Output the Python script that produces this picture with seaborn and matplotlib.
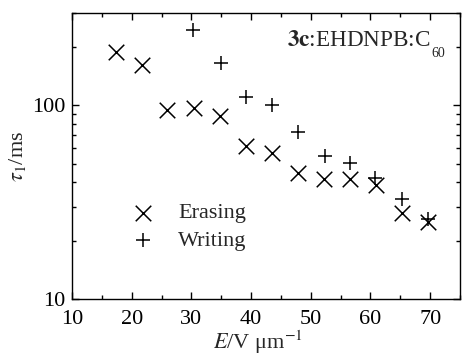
import numpy as np
import pandas as pd
import matplotlib
matplotlib.use("Agg")
import matplotlib.pyplot as plt
import seaborn as sns
from matplotlib.ticker import LogLocator, FixedLocator, MultipleLocator, NullFormatter, FuncFormatter

# Data
erase_E = [17.4, 21.7, 26.0, 30.4, 34.8, 39.1, 43.5, 47.8, 52.2, 56.5, 60.9, 65.2, 69.7]
erase_tau = [188, 161, 95, 97, 88.5, 62, 57, 44.5, 41.5, 41.5, 38.7, 27.7, 25.0]
write_E = [30.3, 34.9, 39.1, 43.5, 47.8, 52.3, 56.6, 60.8, 65.2, 69.7]
write_tau = [245, 165, 110, 101, 73, 55, 50.5, 42.4, 33, 25.8]
series_names = ["Erasing", "Writing"]
x_ticks = [10, 20, 30, 40, 50, 60, 70]
y_ticks = [10, 100]

sns.set_theme(style="ticks")
plt.rcParams['font.family'] = ['Liberation Serif', 'DejaVu Serif']
plt.rcParams['mathtext.fontset'] = 'stix'
FS = 16
plt.rcParams['font.size'] = FS

fig = plt.figure(figsize=(4.62, 3.56), dpi=100)
ax = fig.add_axes([0.1558, 0.1601, 0.9957 - 0.1558, 0.9635 - 0.1601])

df_e = pd.DataFrame({"E": erase_E, "tau": erase_tau})
df_w = pd.DataFrame({"E": write_E, "tau": write_tau})
sns.scatterplot(data=df_e, x="E", y="tau", marker="x", s=125, color="black",
                linewidth=1.1, label=series_names[0], ax=ax, zorder=3)
sns.scatterplot(data=df_w, x="E", y="tau", marker="+", s=115, color="black",
                linewidth=1.1, label=series_names[1], ax=ax, zorder=3)

ax.set_yscale("log")
ax.set_xlim(10, 75)
ax.set_ylim(10, 300)
ax.xaxis.set_major_locator(FixedLocator(x_ticks))
ax.xaxis.set_minor_locator(MultipleLocator(5))
ax.yaxis.set_major_locator(FixedLocator(y_ticks))
ax.yaxis.set_minor_locator(LogLocator(base=10, subs=np.arange(2, 10)))
ax.yaxis.set_minor_formatter(NullFormatter())
ax.yaxis.set_major_formatter(FuncFormatter(lambda v, p: f"{int(v)}"))

for side in ["left", "right", "top", "bottom"]:
    ax.spines[side].set_visible(True)
    ax.spines[side].set_linewidth(1.0)
    ax.spines[side].set_color("black")
ax.tick_params(which="both", direction="in", top=True, right=True, color="black",
               labelsize=FS, labelcolor="black")
ax.tick_params(axis="x", which="both", pad=8)
ax.tick_params(axis="y", which="both", pad=4.5)
ax.tick_params(which="major", length=5, width=1.0)
ax.tick_params(which="minor", length=3, width=1.0)

ax.set_xlabel(r"$E$/V μm$^{-1}$", fontsize=FS, labelpad=-0.5)
ax.xaxis.label.set_x(0.48)
ax.set_ylabel(r"$\tau_1$/ms", fontsize=FS, labelpad=3)

ax.text(0.923, 0.883, r"$\mathbf{3c}$:EHDNPB:C", transform=ax.transAxes,
        ha="right", va="baseline", fontsize=16.7)
ax.text(0.925, 0.846, "60", transform=ax.transAxes,
        ha="left", va="baseline", fontsize=10)

leg = ax.legend(loc="upper left", bbox_to_anchor=(0.137, 0.336), frameon=False,
                borderaxespad=0, borderpad=0, labelspacing=0.3,
                handlelength=1.6, handletextpad=0.78, fontsize=FS)

fig.savefig("out.png", dpi=100)
